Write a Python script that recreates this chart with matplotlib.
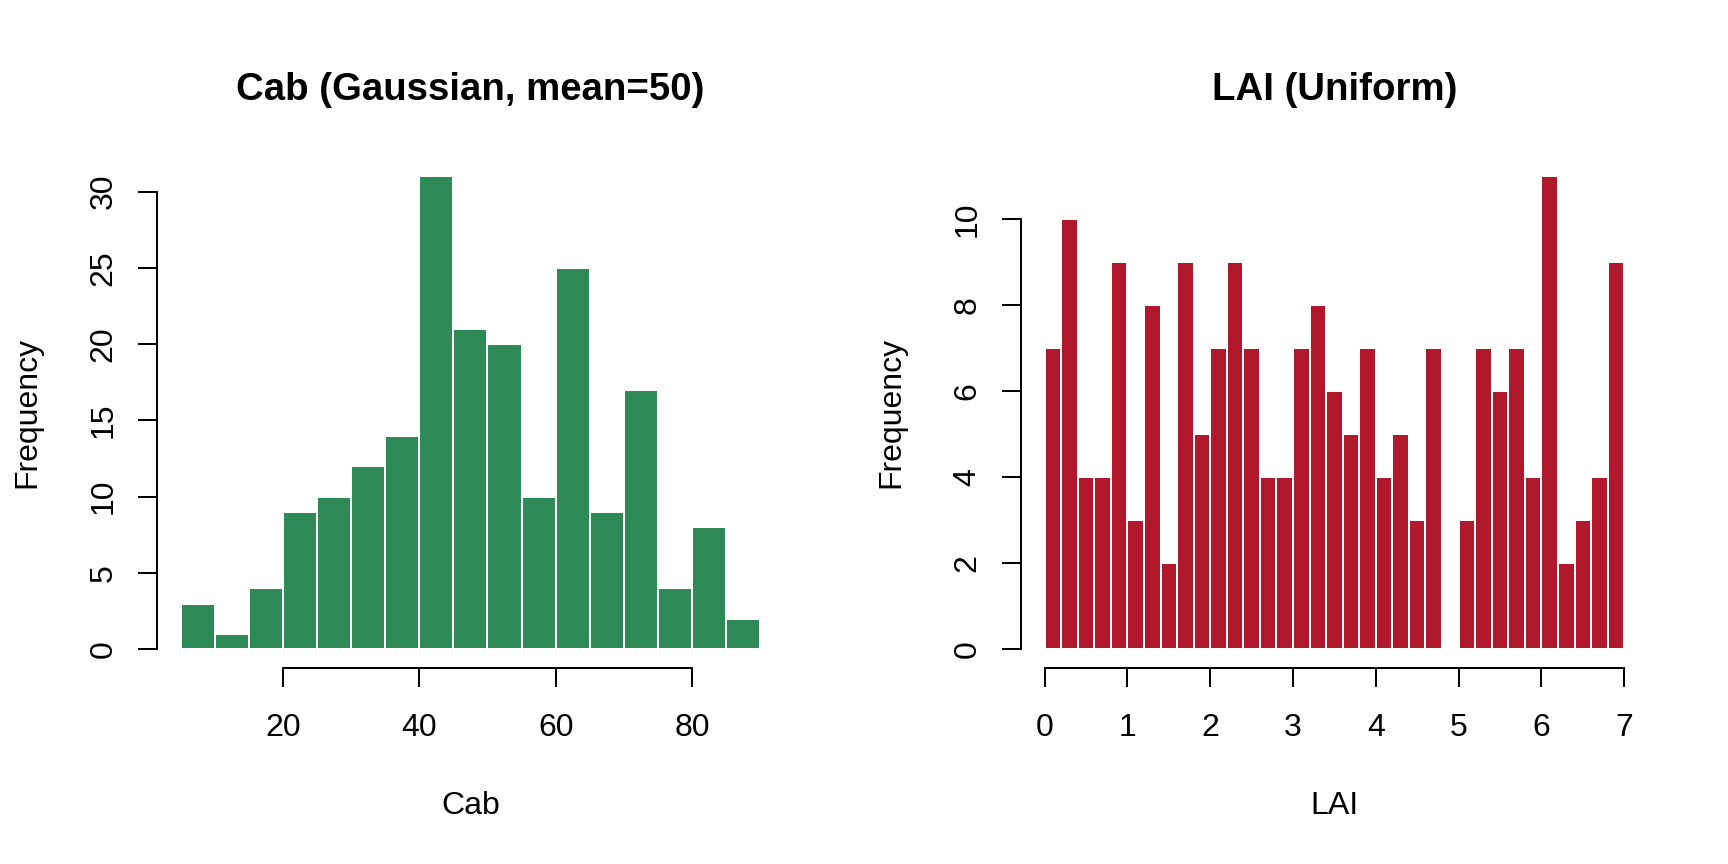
import numpy as np
import matplotlib
matplotlib.use("Agg")
import matplotlib.pyplot as plt

plt.rcParams['font.family'] = ['Liberation Sans', 'DejaVu Sans']

# histogram bins and counts
cab_edges = [5, 10, 15, 20, 25, 30, 35, 40, 45, 50, 55, 60, 65, 70, 75, 80, 85, 90]
cab_counts = [3, 1, 4, 9, 10, 12, 14, 31, 21, 20, 10, 25, 9, 17, 4, 8, 2]
cab_xticks = [20, 40, 60, 80]
cab_yticks = [0, 5, 10, 15, 20, 25, 30]

lai_edges = [round(0.2 * i, 1) for i in range(36)]
lai_counts = [7, 10, 4, 4, 9, 3, 8, 2, 9, 5, 7, 9, 7, 4, 4, 7, 8, 6, 5, 7,
              4, 5, 3, 7, 0, 3, 7, 6, 7, 4, 11, 2, 3, 4, 9]
lai_xticks = [0, 1, 2, 3, 4, 5, 6, 7]
lai_yticks = [0, 2, 4, 6, 8, 10]

W, H = 1728, 864


def r_hist(ax, edges, counts, color, xticks, yticks, title, xlabel):
    edges = np.array(edges, dtype=float)
    ax.bar(edges[:-1], counts, width=np.diff(edges), align='edge',
           color=color, edgecolor='white', linewidth=0.75)
    # R style 4% axis extension
    x0, x1 = edges[0], edges[-1]
    dx = (x1 - x0) * 0.04
    ax.set_xlim(x0 - dx, x1 + dx)
    ymax = max(counts)
    ax.set_ylim(-ymax * 0.04, ymax * 1.04)

    for s in ['top', 'right']:
        ax.spines[s].set_visible(False)
    for s in ['left', 'bottom']:
        ax.spines[s].set_linewidth(0.75)
    ax.spines['bottom'].set_bounds(xticks[0], xticks[-1])
    ax.spines['left'].set_bounds(yticks[0], yticks[-1])

    ax.set_xticks(xticks)
    ax.set_yticks(yticks)
    ax.tick_params(direction='out', length=7.2, width=0.75, labelsize=12)
    ax.tick_params(axis='x', pad=9.6)
    ax.tick_params(axis='y', pad=7.4, labelrotation=90)
    for lab in ax.get_yticklabels():
        lab.set_va('center')

    ax.set_title(title, fontsize=14.4, fontweight='bold', pad=21.6)
    ax.set_xlabel(xlabel, fontsize=12)
    ax.set_ylabel('Frequency', fontsize=12)
    ax.xaxis.set_label_coords(0.5, -0.240)
    ax.yaxis.set_label_coords(-0.183, 0.5)


fig = plt.figure(figsize=(9, 4.5), dpi=192)
ax1 = fig.add_axes([157.4 / W, 195.8 / H, 626 / W, 510.8 / H])
ax2 = fig.add_axes([1021.4 / W, 195.8 / H, 626 / W, 510.8 / H])

r_hist(ax1, cab_edges, cab_counts, '#2E8B57', cab_xticks, cab_yticks,
       'Cab (Gaussian, mean=50)', 'Cab')
r_hist(ax2, lai_edges, lai_counts, '#B2182B', lai_xticks, lai_yticks,
       'LAI (Uniform)', 'LAI')

fig.savefig('out.png', dpi=192)
